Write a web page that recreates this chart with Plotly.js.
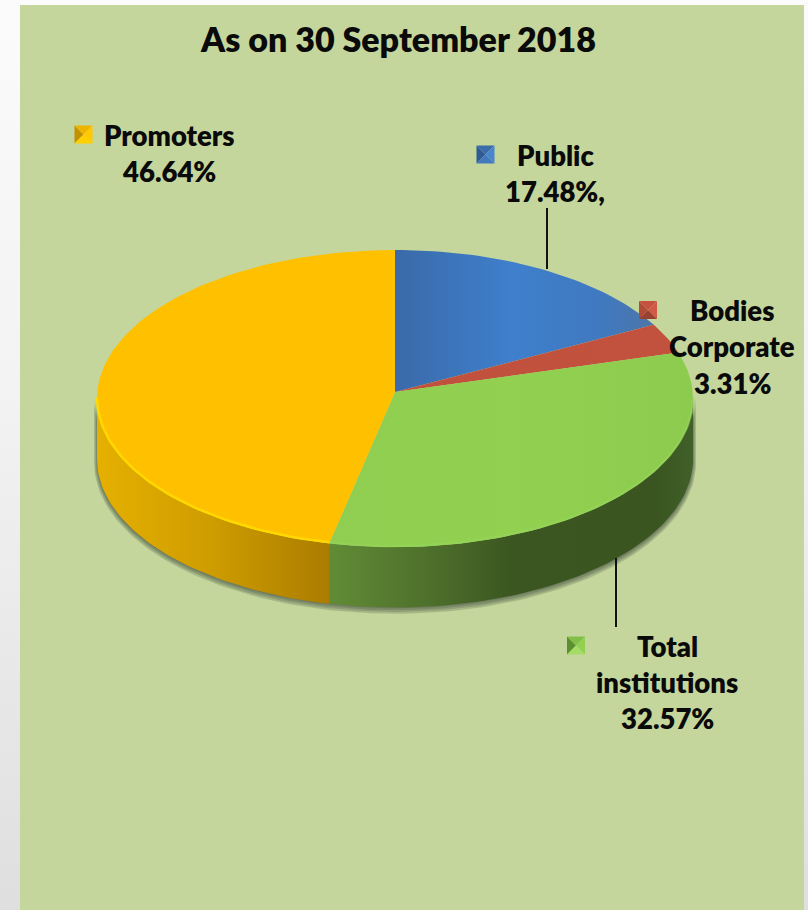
<!DOCTYPE html>
<html>
<head>
<meta charset="utf-8">
<script src="https://cdn.plot.ly/plotly-3.0.1.min.js"></script>
<style>
html,body{margin:0;padding:0;width:808px;height:910px;overflow:hidden;background:linear-gradient(180deg,#fbfbfb 0%,#f2f2f2 45%,#dfdfdf 100%);}
#chart{width:808px;height:910px;}
</style>
</head>
<body>
<div id="chart"></div>
<script>
// Data, clockwise from the top of the pie
const categories = ["Public", "Bodies Corporate", "Total institutions", "Promoters"];
const shares = [17.48, 3.31, 32.57, 46.64];

const titleText = "As on 30 September 2018";
const labelLines = [
  ["Public", "17.48%,"],
  ["Bodies", "Corporate", "3.31%"],
  ["Total", "institutions", "32.57%"],
  ["Promoters", "46.64%"]
];

// Styles
const topScales = [
  [[0,"#3a6aa9"],[0.45,"#3f7fcc"],[0.8,"#4079c0"],[1,"#4d76a8"]],
  [[0,"#c0513d"],[1,"#c2523e"]],
  [[0,"#8fce50"],[0.5,"#92d050"],[1,"#8ccb4e"]],
  [[0,"#ffc000"],[1,"#ffc000"]]
];
const wallScales = {
  2: [[0,"#618c36"],[0.3,"#4c6d2a"],[0.5,"#3b5621"],[0.9,"#3a5520"],[1,"#40602a"]],
  3: [[0,"#e6b000"],[0.5,"#cd9c00"],[1,"#ab7c00"]]
};
const rimColors = {2:"rgba(150,214,90,0.6)", 3:"#ffd800"};
const iconColors = [
  {l:"#2f5a94",t:"#3a6cab",r:"#4a86d0",b:"#4278bc"},
  {l:"#b34a38",t:"#c4523e",r:"#d05a45",b:"#9a4030"},
  {l:"#5c8f30",t:"#82bf48",r:"#92d050",b:"#a4dc68"},
  {l:"#c48f00",t:"#eeb400",r:"#ffc800",b:"#ffd000"}
];
const labelFont = {family: "Lato, Carlito, sans-serif", size: 27.5, color: "#0a0a0a", weight: 800};
const titleFont = {family: "Lato, Carlito, sans-serif", size: 34, color: "#0a0a0a", weight: 800};

// Layout geometry (pixels on the hidden 808x910 axes)
const cx = 395, cy = 398.5, rx = 298, ry = 148.5, depth = 60.5;
const apexY = 392;          // viewing tilt moves the apex above the ellipse centre
const viewWarp = 3;         // the same tilt slides rim points slightly, in degrees
const warp = d => d - viewWarp * Math.sin(d * Math.PI / 180);
const arc = (a0, a1, dy = 0, grow = 0) => {
  const out = [];
  const n = Math.max(2, Math.ceil(Math.abs(a1 - a0) / 1.5));
  for (let i = 0; i <= n; i++) {
    const d = (a0 + (a1 - a0) * i / n) * Math.PI / 180;
    out.push([cx + (rx + grow) * Math.sin(d), cy - (ry + grow) * Math.cos(d) + dy]);
  }
  return out;
};
const toTrace = (pts, extra) => Object.assign({
  type: "scatter", mode: "lines", x: pts.map(p => p[0]), y: pts.map(p => p[1]),
  hoverinfo: "skip", showlegend: false, line: {width: 0}
}, extra);

const total = shares.reduce((s, v) => s + v, 0);
const bounds = [];
shares.reduce((acc, v) => {
  bounds.push([warp(acc / total * 360), warp((acc + v) / total * 360)]);
  return acc + v;
}, 0);

const traces = [];

// soft shadow round the front wall
[4, 3, 2, 1].forEach(k => {
  const pts = arc(90, 270, 0, k - 1).concat(arc(270, 90, depth + k * 0.8, k - 1));
  traces.push(toTrace(pts, {fill: "toself", fillcolor: "rgba(50,60,50,0.2)"}));
});

// front wall, visible for angles between 90 and 270 degrees
bounds.forEach((b, i) => {
  if (!wallScales[i]) return;
  const a0 = Math.max(b[0], 90), a1 = Math.min(b[1], 270);
  if (a1 <= a0) return;
  const pts = arc(a0, a1).concat(arc(a1, a0, depth));
  traces.push(toTrace(pts, {
    fill: "toself", fillcolor: "rgba(0,0,0,0)",
    fillgradient: {type: "horizontal", colorscale: wallScales[i]},
    name: categories[i]
  }));
});

// top face
bounds.forEach((b, i) => {
  const pts = [[cx, apexY]].concat(arc(b[0], b[1])).concat([[cx, apexY]]);
  traces.push(toTrace(pts, {
    fill: "toself", fillcolor: "rgba(0,0,0,0)",
    fillgradient: {type: "horizontal", colorscale: topScales[i]},
    name: categories[i]
  }));
});

// bright bevel along the front rim
bounds.forEach((b, i) => {
  if (!rimColors[i]) return;
  const a0 = Math.max(b[0], 90), a1 = Math.min(b[1], 270);
  traces.push(toTrace(arc(a0, a1, -1), {line: {width: 2.5, color: rimColors[i]}}));
});

// Labels
const lineStep = [36.5, 36.5, 36, 36];
const labelAnchors = [[555, 155], [732, 310], [667, 646], [169, 135]];
const annotations = [];
labelLines.forEach((lines, i) => {
  lines.forEach((t, j) => {
    annotations.push({
      xref: "x", yref: "y", x: labelAnchors[i][0], y: labelAnchors[i][1] + j * lineStep[i],
      text: t, showarrow: false, xanchor: "center", yanchor: "middle", font: labelFont
    });
  });
});
annotations.push({
  xref: "x", yref: "y", x: 397.5, y: 38, text: titleText, showarrow: false,
  xanchor: "center", yanchor: "middle", font: titleFont
});

// Shapes: panel, leader lines, legend keys
const shapes = [
  {type: "rect", layer: "below", xref: "x", yref: "y", x0: 20, x1: 804, y0: 5, y1: 910,
   line: {width: 0}, fillcolor: "#c4d69c"},
  {type: "line", layer: "above", xref: "x", yref: "y", x0: 547, x1: 547, y0: 208, y1: 269,
   line: {color: "#111", width: 2}},
  {type: "line", layer: "above", xref: "x", yref: "y", x0: 616, x1: 616, y0: 558, y1: 627,
   line: {color: "#111", width: 2}}
];
const iconCenters = [[485.5, 154.5], [648, 310], [576, 645.5], [83.5, 134.5]];
iconCenters.forEach((c, i) => {
  const h = 9, [x, y] = c, col = iconColors[i];
  const L = x - h, R = x + h, T = y - h, B = y + h;
  const tri = (p, fill) => shapes.push({type: "path", layer: "above", xref: "x", yref: "y",
    path: p, fillcolor: fill, line: {width: 0}});
  tri(`M${L},${T} L${x},${y} L${L},${B} Z`, col.l);
  tri(`M${L},${T} L${R},${T} L${x},${y} Z`, col.t);
  tri(`M${R},${T} L${R},${B} L${x},${y} Z`, col.r);
  tri(`M${L},${B} L${R},${B} L${x},${y} Z`, col.b);
});

const layout = {
  width: 808, height: 910,
  margin: {l: 0, r: 0, t: 0, b: 0},
  paper_bgcolor: "rgba(0,0,0,0)", plot_bgcolor: "rgba(0,0,0,0)",
  showlegend: false, hovermode: false,
  xaxis: {range: [0, 808], visible: false, fixedrange: true},
  yaxis: {range: [910, 0], visible: false, fixedrange: true},
  shapes, annotations
};
Plotly.newPlot("chart", traces, layout, {staticPlot: true, displayModeBar: false});
</script>
</body>
</html>
